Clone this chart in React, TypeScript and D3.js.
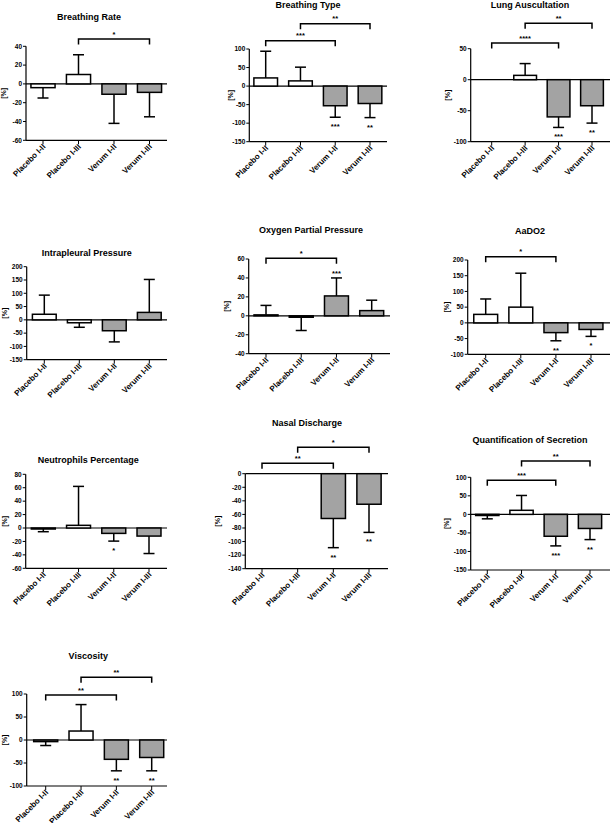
import React from "react";
import * as d3 from "d3";

const categories = ["Placebo I-II", "Placebo I-III", "Verum I-II", "Verum I-III"];

const titles = [
  "Breathing Rate",
  "Breathing Type",
  "Lung Auscultation",
  "Intrapleural Pressure",
  "Oxygen Partial Pressure",
  "AaDO2",
  "Neutrophils Percentage",
  "Nasal Discharge",
  "Quantification of Secretion",
  "Viscosity",
];

// mean change [%] and error-bar end (mean ± SD, drawn away from zero)
const breathingRateMean = [-4, 10, -11, -9];
const breathingRateErr = [-15, 31, -42, -35];
const breathingTypeMean = [22, 14, -53, -47];
const breathingTypeErr = [94, 51, -84, -85];
const lungAuscMean = [0, 7, -60, -42];
const lungAuscErr = [0, 26, -77, -70];
const intrapleuralMean = [21, -11, -41, 28];
const intrapleuralErr = [93, -28, -83, 152];
const oxygenMean = [1, -1.5, 21, 5.5];
const oxygenErr = [11, -15.5, 40, 16.5];
const aado2Mean = [27, 50, -31, -21];
const aado2Err = [76, 158, -57, -43];
const neutrophilsMean = [-1.5, 4, -8, -12];
const neutrophilsErr = [-5.5, 62, -19.5, -38];
const nasalMean = [0, 0, -66, -45];
const nasalErr = [0, 0, -109, -86.5];
const secretionMean = [-3, 11, -59, -38];
const secretionErr = [-12, 51, -85, -68];
const viscosityMean = [-3.5, 19.5, -42, -38];
const viscosityErr = [-12, 77, -67, -67];

const means = [
  breathingRateMean, breathingTypeMean, lungAuscMean, intrapleuralMean, oxygenMean,
  aado2Mean, neutrophilsMean, nasalMean, secretionMean, viscosityMean,
];
const errs = [
  breathingRateErr, breathingTypeErr, lungAuscErr, intrapleuralErr, oxygenErr,
  aado2Err, neutrophilsErr, nasalErr, secretionErr, viscosityErr,
];

const barStars = [
  ["", "", "", ""],
  ["", "", "***", "**"],
  ["", "", "***", "**"],
  ["", "", "", ""],
  ["", "", "***", ""],
  ["", "", "**", "*"],
  ["", "", "*", ""],
  ["", "", "**", "**"],
  ["", "", "***", "**"],
  ["", "", "**", "**"],
];

// [from, to, label]
const brackets: [number, number, string][][] = [
  [[1, 3, "*"]],
  [[0, 2, "***"], [1, 3, "**"]],
  [[0, 2, "****"], [1, 3, "**"]],
  [],
  [[0, 2, "*"]],
  [[0, 2, "*"]],
  [],
  [[0, 2, "**"], [1, 3, "*"]],
  [[0, 2, "***"], [1, 3, "**"]],
  [[0, 2, "**"], [1, 3, "**"]],
];

const yDomains = [
  [-60, 40], [-150, 100], [-100, 50], [-150, 200], [-40, 60],
  [-100, 200], [-60, 80], [-140, 0], [-150, 100], [-100, 100],
];
const tickSteps = [20, 50, 50, 50, 20, 50, 20, 20, 50, 50];

// layout: axis x, first/last category centre, axis right end, plot top/bottom,
// title position, y-label offset, bracket line y's
const layout = [
  { x0: 26, x1: 43, x2: 149.5, xr: 167, yt: 46.3, yb: 140.3, tx: 89, ty: 20, yl: 20, br: [39] },
  { x0: 249.3, x1: 265.7, x2: 370, xr: 387, yt: 49, yb: 141.7, tx: 308, ty: 7.5, yl: 16, br: [40.7, 23.7] },
  { x0: 470.7, x1: 491.7, x2: 592, xr: 612, yt: 48.7, yb: 141.7, tx: 530, ty: 8, yl: 21, br: [43, 23.3] },
  { x0: 26.7, x1: 44.3, x2: 149.3, xr: 167, yt: 266.7, yb: 359.7, tx: 86.7, ty: 255.5, yl: 20, br: [] },
  { x0: 248.7, x1: 266, x2: 371.7, xr: 390, yt: 259, yb: 353.7, tx: 311, ty: 232.5, yl: 20, br: [258.3] },
  { x0: 467.7, x1: 485.7, x2: 591, xr: 612, yt: 260, yb: 354.3, tx: 530, ty: 234, yl: 19, br: [256.7] },
  { x0: 25.7, x1: 43.3, x2: 149, xr: 167, yt: 474.3, yb: 568.3, tx: 88.3, ty: 463, yl: 19, br: [] },
  { x0: 245.3, x1: 262, x2: 369, xr: 388, yt: 473.7, yb: 568.7, tx: 307, ty: 426, yl: 25, br: [463.3, 447.3] },
  { x0: 470.7, x1: 487.3, x2: 590, xr: 612, yt: 477.3, yb: 570, tx: 530, ty: 442.5, yl: 22, br: [480.3, 461] },
  { x0: 26.7, x1: 45.7, x2: 151.7, xr: 167, yt: 694, yb: 786, tx: 88.3, ty: 659, yl: 20, br: [695, 677.3] },
];

const FONT = "'Liberation Sans', Arial, sans-serif";
const GRAY = "#a3a3a3";

function Panel({ i }: { i: number }) {
  const L = layout[i];
  const [ymin, ymax] = yDomains[i];
  const y = d3.scaleLinear().domain([ymin, ymax]).range([L.yb, L.yt]);
  const x = d3.scalePoint<string>().domain(categories).range([L.x1, L.x2]);
  const step = (L.x2 - L.x1) / 3;
  const bw = step * 0.68;
  const ticks = d3.range(ymin, ymax + 0.001, tickSteps[i]);
  const m = means[i];
  const e = errs[i];
  const midY = (L.yt + L.yb) / 2;
  return (
    <g>
      <text x={L.tx} y={L.ty} textAnchor="middle" fontSize={9} fontWeight="bold" fontFamily={FONT}>
        {titles[i]}
      </text>
      {/* y axis */}
      <line x1={L.x0} x2={L.x0} y1={L.yt} y2={L.yb} stroke="#000" strokeWidth={1.2} />
      {ticks.map((t) => (
        <g key={t}>
          <line x1={L.x0 - 3} x2={L.x0} y1={y(t)} y2={y(t)} stroke="#000" strokeWidth={1} />
          <text x={L.x0 - 4} y={y(t) + 2.3} textAnchor="end" fontSize={6.5} fontWeight="bold" fontFamily={FONT}>
            {t}
          </text>
        </g>
      ))}
      <text
        transform={`translate(${L.x0 - L.yl},${midY}) rotate(-90)`}
        textAnchor="middle"
        fontSize={7}
        fontWeight="bold"
        fontFamily={FONT}
      >
        [%]
      </text>
      {/* bottom axis */}
      <line x1={L.x0} x2={L.xr} y1={L.yb} y2={L.yb} stroke="#000" strokeWidth={1.2} />
      {categories.map((c) => (
        <g key={c}>
          <line x1={x(c)} x2={x(c)} y1={L.yb} y2={L.yb + 4} stroke="#000" strokeWidth={1} />
          <text
            transform={`translate(${(x(c) as number) + 3},${L.yb + 7}) rotate(-45)`}
            textAnchor="end"
            fontSize={8}
            fontWeight="bold"
            fontFamily={FONT}
          >
            {c}
          </text>
        </g>
      ))}
      {/* zero line */}
      <line x1={L.x0} x2={L.xr} y1={y(0)} y2={y(0)} stroke="#000" strokeWidth={1.2} />
      {/* bars */}
      {categories.map((c, k) => {
        if (m[k] === 0 && e[k] === 0) return null;
        const cx = x(c) as number;
        const y0 = y(0);
        const ym = y(m[k]);
        const ye = y(e[k]);
        return (
          <g key={c}>
            <line x1={cx} x2={cx} y1={ym} y2={ye} stroke="#000" strokeWidth={1.5} />
            <line x1={cx - 5.5} x2={cx + 5.5} y1={ye} y2={ye} stroke="#000" strokeWidth={1.5} />
            <rect
              x={cx - bw / 2}
              y={Math.min(y0, ym)}
              width={bw}
              height={Math.abs(ym - y0)}
              fill={k < 2 ? "#fff" : GRAY}
              stroke="#000"
              strokeWidth={1.5}
            />
          </g>
        );
      })}
      {/* stars on bars */}
      {categories.map((c, k) => {
        const s = barStars[i][k];
        if (!s) return null;
        const cx = x(c) as number;
        const ye = y(e[k]);
        const above = e[k] > 0;
        return (
          <text key={c} x={cx} y={above ? ye - 2 : ye + 12} textAnchor="middle" fontSize={7.5} fontWeight="bold" fontFamily={FONT}>
            {s}
          </text>
        );
      })}
      {/* significance brackets */}
      {brackets[i].map(([a, b, lab], j) => {
        const xa = x(categories[a]) as number;
        const xb = x(categories[b]) as number;
        const by = L.br[j];
        return (
          <g key={j}>
            <path d={`M${xa},${by + 5.5}V${by}H${xb}V${by + 5.5}`} fill="none" stroke="#000" strokeWidth={1.5} />
            <text x={(xa + xb) / 2} y={by - 2.5} textAnchor="middle" fontSize={7.5} fontWeight="bold" fontFamily={FONT}>
              {lab}
            </text>
          </g>
        );
      })}
    </g>
  );
}

export default function App() {
  return (
    <svg
      width={610}
      height={823}
      style={{ position: "absolute", left: 0, top: 0, background: "#fff" }}
    >
      <rect width={610} height={823} fill="#fff" />
      {titles.map((_, i) => (
        <Panel key={i} i={i} />
      ))}
    </svg>
  );
}
